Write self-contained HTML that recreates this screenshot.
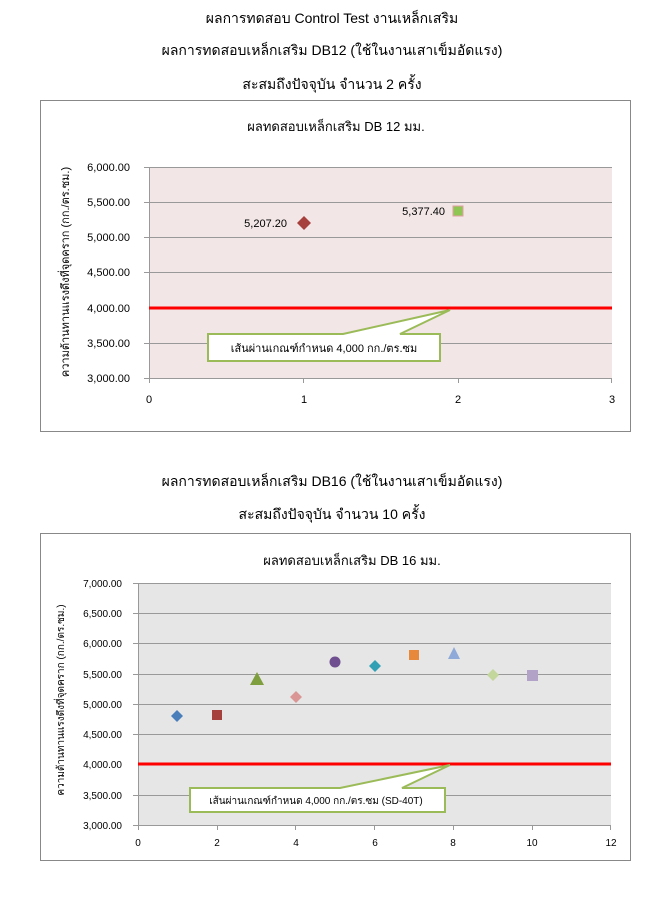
<!DOCTYPE html>
<html><head><meta charset="utf-8"><style>
body{margin:0;background:#fff;}
svg text{font-family:"Liberation Sans","DejaVu Sans",sans-serif;fill:#000;}
</style></head><body>
<svg width="664" height="903" xmlns="http://www.w3.org/2000/svg">
<rect width="664" height="903" fill="#fff"/>
<g font-size="14" text-anchor="middle">
<text x="332" y="23">ผลการทดสอบ Control Test งานเหล็กเสริม</text>
<text x="332" y="55">ผลการทดสอบเหล็กเสริม DB12 (ใช้ในงานเสาเข็มอัดแรง)</text>
<text x="332" y="89">สะสมถึงปัจจุบัน จำนวน 2 ครั้ง</text>
<text x="332" y="486">ผลการทดสอบเหล็กเสริม DB16 (ใช้ในงานเสาเข็มอัดแรง)</text>
<text x="332" y="519">สะสมถึงปัจจุบัน จำนวน 10 ครั้ง</text>
</g>
<!-- Chart 1 -->
<rect x="40.5" y="100.5" width="590" height="331" fill="#fff" stroke="#888"/>
<text x="336" y="131" font-size="13" text-anchor="middle">ผลทดสอบเหล็กเสริม DB 12 มม.</text>
<rect x="149" y="167" width="463" height="211" fill="#f2e6e6"/>
<g stroke="#999" stroke-width="1">
<line x1="144" y1="167.5" x2="612" y2="167.5"/><line x1="144" y1="202.5" x2="612" y2="202.5"/>
<line x1="144" y1="237.5" x2="612" y2="237.5"/><line x1="144" y1="272.5" x2="612" y2="272.5"/>
<line x1="144" y1="343.5" x2="612" y2="343.5"/><line x1="144" y1="378.5" x2="612" y2="378.5"/>
<line x1="149.5" y1="167" x2="149.5" y2="383"/>
<line x1="303.5" y1="378" x2="303.5" y2="383"/><line x1="458.5" y1="378" x2="458.5" y2="383"/><line x1="611.5" y1="378" x2="611.5" y2="383"/>
</g>
<g font-size="11" text-anchor="end">
<text x="130" y="171">6,000.00</text><text x="130" y="206">5,500.00</text><text x="130" y="241">5,000.00</text>
<text x="130" y="276">4,500.00</text><text x="130" y="312">4,000.00</text><text x="130" y="347">3,500.00</text><text x="130" y="382">3,000.00</text>
</g>
<g font-size="11" text-anchor="middle">
<text x="149" y="403">0</text><text x="304" y="403">1</text><text x="458" y="403">2</text><text x="612" y="403">3</text>
</g>
<text transform="translate(69,272) rotate(-90)" font-size="11" text-anchor="middle">ความต้านทานแรงดึงที่จุดคราก  (กก./ตร.ซม.)</text>
<line x1="149" y1="308" x2="612" y2="308" stroke="#f00" stroke-width="3"/>
<path d="M208,334 H343 L450,310 L400,334 H440 V361 H208 Z" fill="#fff" stroke="#9bbb59" stroke-width="2"/>
<text x="324" y="352" font-size="11" text-anchor="middle">เส้นผ่านเกณฑ์กำหนด 4,000  กก./ตร.ซม</text>
<path d="M304,216 L311,223 L304,230 L297,223 Z" fill="#a5403c"/>
<text x="287" y="227" font-size="11" text-anchor="end">5,207.20</text>
<rect x="453" y="206" width="10" height="10" fill="#8fc653" stroke="#e0a0a0"/>
<text x="445" y="215" font-size="11" text-anchor="end">5,377.40</text>
<!-- Chart 2 -->
<rect x="40.5" y="533.5" width="590" height="327" fill="#fff" stroke="#888"/>
<text x="352" y="565" font-size="13" text-anchor="middle">ผลทดสอบเหล็กเสริม DB 16 มม.</text>
<rect x="138" y="583" width="473" height="242" fill="#e6e6e6"/>
<g stroke="#999" stroke-width="1">
<line x1="133" y1="583.5" x2="611" y2="583.5"/><line x1="133" y1="613.5" x2="611" y2="613.5"/>
<line x1="133" y1="643.5" x2="611" y2="643.5"/><line x1="133" y1="674.5" x2="611" y2="674.5"/>
<line x1="133" y1="704.5" x2="611" y2="704.5"/><line x1="133" y1="734.5" x2="611" y2="734.5"/>
<line x1="133" y1="795.5" x2="611" y2="795.5"/><line x1="133" y1="825.5" x2="611" y2="825.5"/>
<line x1="138.5" y1="583" x2="138.5" y2="830"/>
<line x1="217.5" y1="825" x2="217.5" y2="830"/><line x1="295.5" y1="825" x2="295.5" y2="830"/><line x1="374.5" y1="825" x2="374.5" y2="830"/>
<line x1="453.5" y1="825" x2="453.5" y2="830"/><line x1="532.5" y1="825" x2="532.5" y2="830"/><line x1="610.5" y1="825" x2="610.5" y2="830"/>
</g>
<g font-size="10" text-anchor="end">
<text x="122" y="587">7,000.00</text><text x="122" y="617">6,500.00</text><text x="122" y="647">6,000.00</text>
<text x="122" y="678">5,500.00</text><text x="122" y="708">5,000.00</text><text x="122" y="738">4,500.00</text>
<text x="122" y="768">4,000.00</text><text x="122" y="799">3,500.00</text><text x="122" y="829">3,000.00</text>
</g>
<g font-size="10" text-anchor="middle">
<text x="138" y="846">0</text><text x="217" y="846">2</text><text x="296" y="846">4</text><text x="375" y="846">6</text>
<text x="453" y="846">8</text><text x="532" y="846">10</text><text x="611" y="846">12</text>
</g>
<text transform="translate(64,700) rotate(-90)" font-size="10" text-anchor="middle">ความต้านทานแรงดึงที่จุดคราก  (กก./ตร.ซม.)</text>
<line x1="138" y1="764" x2="611" y2="764" stroke="#f00" stroke-width="3"/>
<path d="M190,788 H340 L450,765 L402,788 H445 V812 H190 Z" fill="#fff" stroke="#9bbb59" stroke-width="2"/>
<text x="316" y="804" font-size="10" text-anchor="middle">เส้นผ่านเกณฑ์กำหนด 4,000 กก./ตร.ซม (SD-40T)</text>
<path d="M177,710 L183,716 L177,722 L171,716 Z" fill="#4a7ebb"/>
<rect x="212" y="710" width="10" height="10" fill="#a5403c"/>
<path d="M257,672 L264,685 L250,685 Z" fill="#7f9f3f"/>
<path d="M296,691 L302,697 L296,703 L290,697 Z" fill="#d99694"/>
<circle cx="335" cy="662" r="5.5" fill="#6f4f8f"/>
<path d="M375,660 L381,666 L375,672 L369,666 Z" fill="#31a0b5"/>
<rect x="409" y="650" width="10" height="10" fill="#e8883a"/>
<path d="M454,647 L460,659 L448,659 Z" fill="#8faad8"/>
<path d="M493,669 L499,675 L493,681 L487,675 Z" fill="#c3d69b"/>
<rect x="527" y="670" width="11" height="11" fill="#b3a2c7"/>
</svg>
</body></html>
